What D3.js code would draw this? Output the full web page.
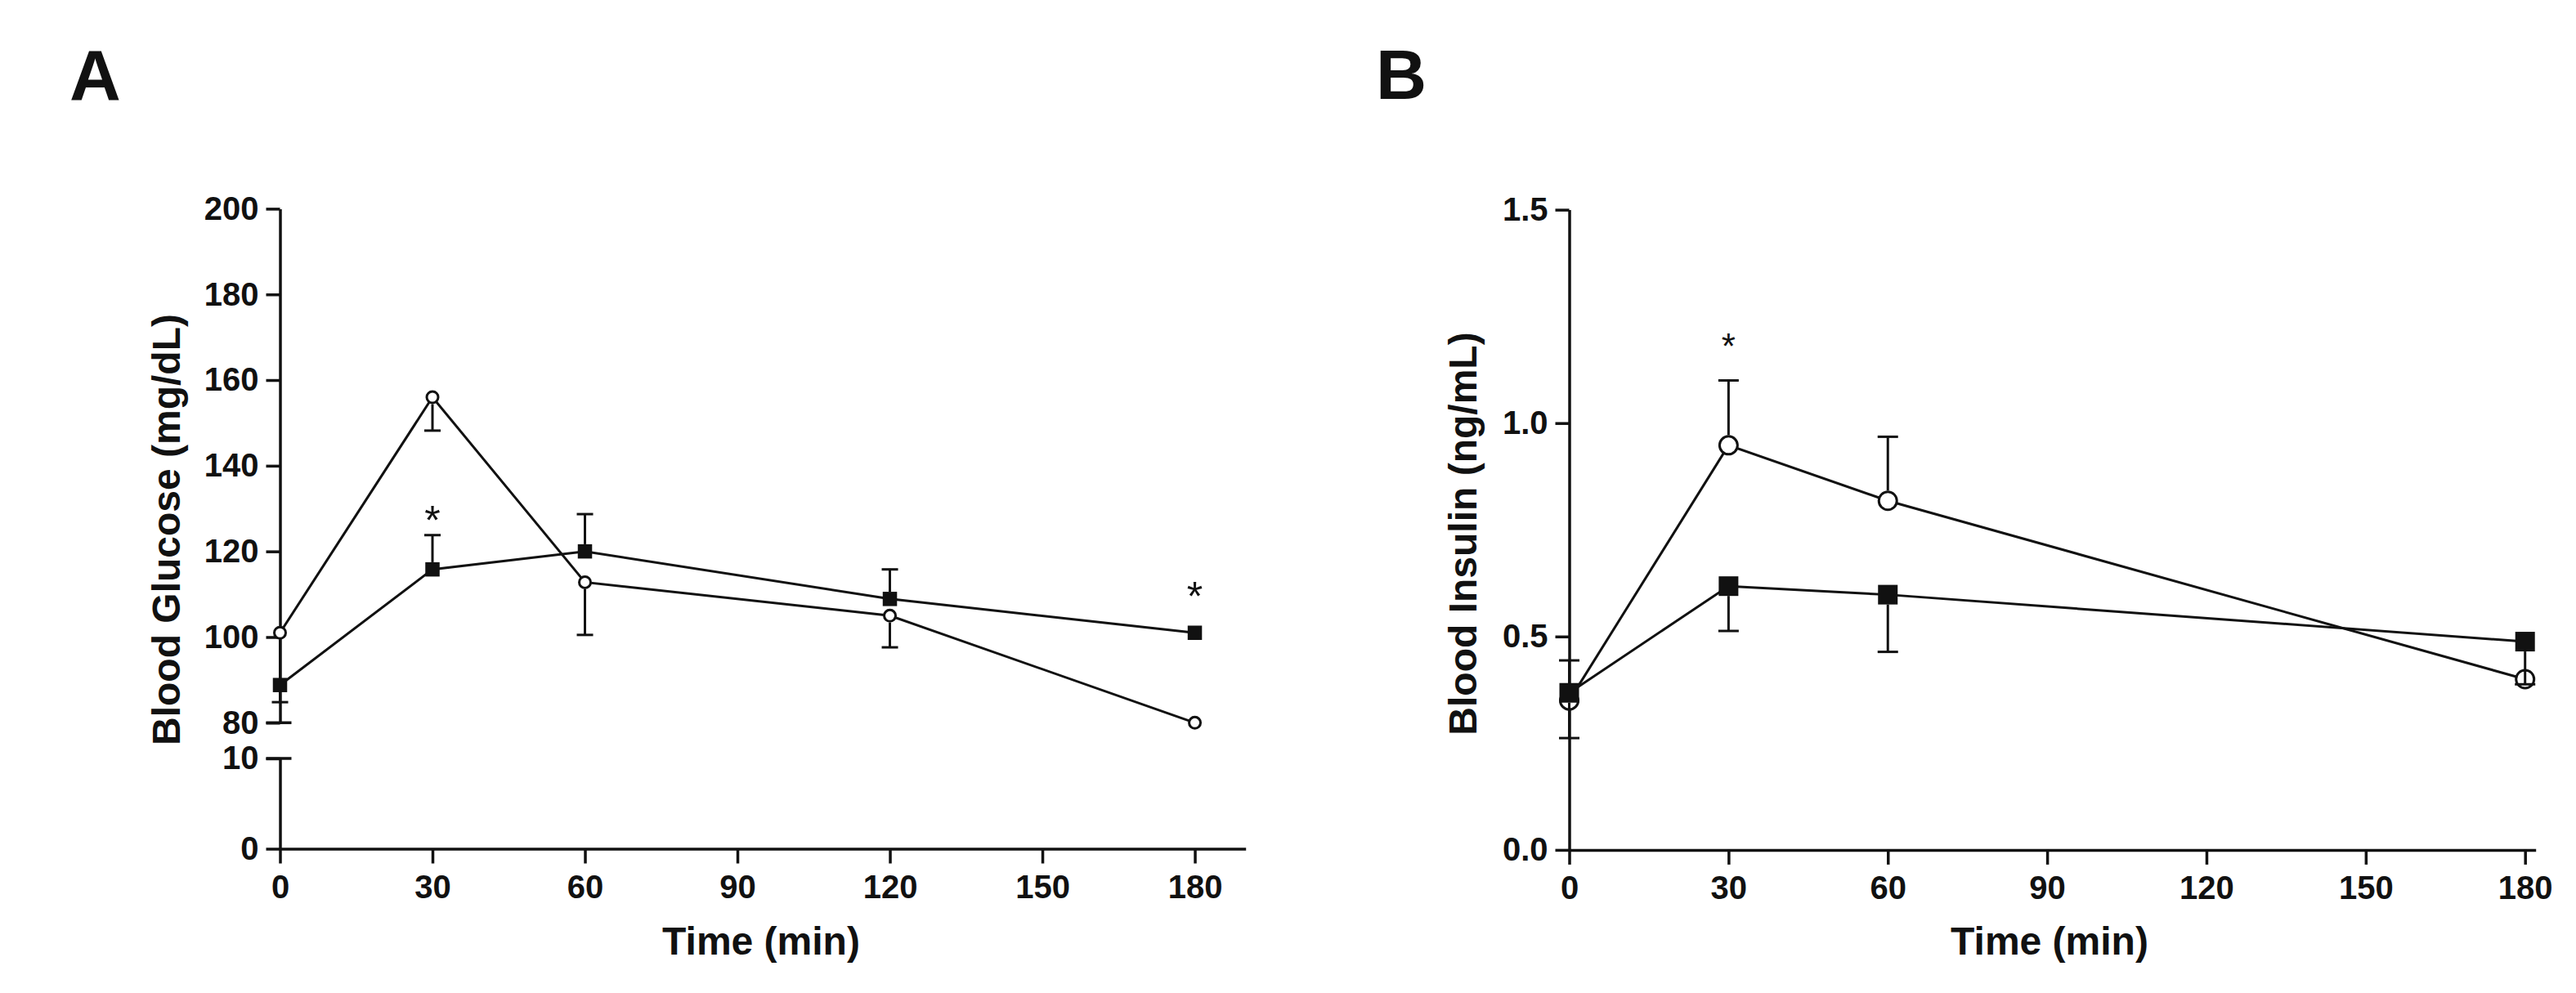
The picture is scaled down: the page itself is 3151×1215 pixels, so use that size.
<!DOCTYPE html>
<html>
<head>
<meta charset="utf-8">
<script src="https://cdn.jsdelivr.net/npm/d3@7"></script>
<style>
  body { margin: 0; background: #fff; }
  text { font-family: "Liberation Sans", Arial, sans-serif; font-weight: bold; fill: #111; }
</style>
</head>
<body>
<svg id="chart" width="3151" height="1215"></svg>
<script>
// glucose panel (A)
const times = [0, 30, 60, 120, 180];
const glucoseOpen = [101, 156, 112.8, 105, 80];
const glucoseOpenErr = [-16.2, -7.8, -12.3, -7.4, 0];
const glucoseFilled = [88.8, 115.8, 120, 108.9, 101];
const glucoseFilledErr = [0, 8, 8.7, 6.9, 0];
const glucoseStars = [[30, 129.5], [180, 111.8]];

// insulin panel (B)
const insulinTimes = [0, 30, 60, 180];
const insulinOpen = [0.35, 0.948, 0.818, 0.40];
const insulinOpenErr = [0.094, 0.152, 0.15, 0];
const insulinFilled = [0.368, 0.618, 0.598, 0.488];
const insulinFilledErr = [-0.106, -0.105, -0.134, -0.1];
const insulinStars = [[30, 1.2]];

const xTicks = [0, 30, 60, 90, 120, 150, 180];
const glucoseTicksHigh = [80, 100, 120, 140, 160, 180, 200];
const glucoseTicksLow = [0, 10];
const insulinTicks = [0, 0.5, 1.0, 1.5];

const svg = d3.select("#chart");
const ink = "#111";

function styleAxis(g) {
  g.selectAll("path, line").attr("stroke", ink).attr("stroke-width", 3.5);
  g.selectAll("text").attr("font-size", 40).attr("fill", ink);
}

function drawSeries(g, x, y, ts, vals, errs, shape, size, capW) {
  const line = d3.line().x((d, i) => x(ts[i])).y(d => y(d));
  g.append("path")
    .datum(vals)
    .attr("d", line)
    .attr("fill", "none")
    .attr("stroke", ink)
    .attr("stroke-width", 3);

  const half = size / 2;
  if (shape === "square") {
    g.selectAll(null)
      .data(vals)
      .enter()
      .append("rect")
      .attr("x", (d, i) => x(ts[i]) - half)
      .attr("y", d => y(d) - half)
      .attr("width", size)
      .attr("height", size)
      .attr("fill", ink);
  } else {
    g.selectAll(null)
      .data(vals)
      .enter()
      .append("circle")
      .attr("cx", (d, i) => x(ts[i]))
      .attr("cy", d => y(d))
      .attr("r", half - 1.5)
      .attr("fill", "#fff")
      .attr("stroke", ink)
      .attr("stroke-width", 3);
  }

  vals.forEach((v, i) => {
    if (!errs[i]) return;
    const cx = x(ts[i]);
    const y0 = y(v);
    const y1 = y(v + errs[i]);
    const dir = y1 < y0 ? -1 : 1;
    if (Math.abs(y1 - y0) > half) {
      g.append("line")
        .attr("x1", cx).attr("x2", cx)
        .attr("y1", y0 + dir * half).attr("y2", y1)
        .attr("stroke", ink).attr("stroke-width", 3);
    }
    g.append("line")
      .attr("x1", cx - capW / 2).attr("x2", cx + capW / 2)
      .attr("y1", y1).attr("y2", y1)
      .attr("stroke", ink).attr("stroke-width", 3);
  });
}

function drawStars(g, x, y, stars, fs) {
  g.selectAll(null)
    .data(stars)
    .enter()
    .append("text")
    .attr("x", d => x(d[0]))
    .attr("y", d => y(d[1]) + fs * 0.58)
    .attr("text-anchor", "middle")
    .attr("font-size", fs)
    .style("font-weight", "normal")
    .text("*");
}

// ---------- Panel A ----------
const xA = d3.scaleLinear().domain([0, 190]).range([342.5, 1523.7]);
const yAHigh = d3.scaleLinear().domain([80, 200]).range([884.3, 255.4]);
const yALow = d3.scaleLinear().domain([0, 10]).range([1038.5, 928]);
const yA = v => (v >= 80 ? yAHigh(v) : yALow(v));

const gA = svg.append("g");

gA.append("g")
  .attr("transform", `translate(0,${yALow(0)})`)
  .call(d3.axisBottom(xA).tickValues(xTicks).tickSize(18).tickPadding(14).tickSizeOuter(0))
  .call(styleAxis);

gA.append("g")
  .attr("transform", `translate(${xA(0)},0)`)
  .call(d3.axisLeft(yAHigh).tickValues(glucoseTicksHigh).tickSize(17).tickPadding(9).tickSizeOuter(0))
  .call(styleAxis);

gA.append("g")
  .attr("transform", `translate(${xA(0)},0)`)
  .call(d3.axisLeft(yALow).tickValues(glucoseTicksLow).tickSize(17).tickPadding(9).tickSizeOuter(0))
  .call(styleAxis);

// axis break marks
[yAHigh(80), yALow(10)].forEach(yy => {
  gA.append("line")
    .attr("x1", xA(0) - 17).attr("x2", xA(0) + 14)
    .attr("y1", yy).attr("y2", yy)
    .attr("stroke", ink).attr("stroke-width", 3.5);
});

drawSeries(gA, xA, yA, times, glucoseOpen, glucoseOpenErr, "circle", 17, 20);
drawSeries(gA, xA, yA, times, glucoseFilled, glucoseFilledErr, "square", 17.5, 20);
drawStars(gA, xA, yA, glucoseStars, 50);

gA.append("text")
  .attr("transform", "translate(220,648) rotate(-90)")
  .attr("text-anchor", "middle")
  .attr("font-size", 48)
  .text("Blood Glucose (mg/dL)");

gA.append("text")
  .attr("x", 931).attr("y", 1168)
  .attr("text-anchor", "middle")
  .attr("font-size", 48)
  .text("Time (min)");

gA.append("text")
  .attr("x", 85).attr("y", 122)
  .attr("font-size", 87)
  .text("A");

// ---------- Panel B ----------
const xB = d3.scaleLinear().domain([0, 182]).range([1919.5, 3101.7]);
const yB = d3.scaleLinear().domain([0, 1.5]).range([1039.9, 256.6]);

const gB = svg.append("g");

gB.append("g")
  .attr("transform", `translate(0,${yB(0)})`)
  .call(d3.axisBottom(xB).tickValues(xTicks).tickSize(18).tickPadding(14).tickSizeOuter(0))
  .call(styleAxis);

gB.append("g")
  .attr("transform", `translate(${xB(0)},0)`)
  .call(d3.axisLeft(yB).tickValues(insulinTicks).tickSize(17).tickPadding(9).tickSizeOuter(0)
    .tickFormat(d3.format(".1f")))
  .call(styleAxis);

drawSeries(gB, xB, yB, insulinTimes, insulinOpen, insulinOpenErr, "circle", 25, 25);
drawSeries(gB, xB, yB, insulinTimes, insulinFilled, insulinFilledErr, "square", 24, 25);
drawStars(gB, xB, yB, insulinStars, 44);

gB.append("text")
  .attr("transform", "translate(1806,653) rotate(-90)")
  .attr("text-anchor", "middle")
  .attr("font-size", 48)
  .text("Blood Insulin (ng/mL)");

gB.append("text")
  .attr("x", 2507).attr("y", 1168)
  .attr("text-anchor", "middle")
  .attr("font-size", 48)
  .text("Time (min)");

gB.append("text")
  .attr("x", 1683).attr("y", 121)
  .attr("font-size", 86)
  .text("B");
</script>
</body>
</html>
